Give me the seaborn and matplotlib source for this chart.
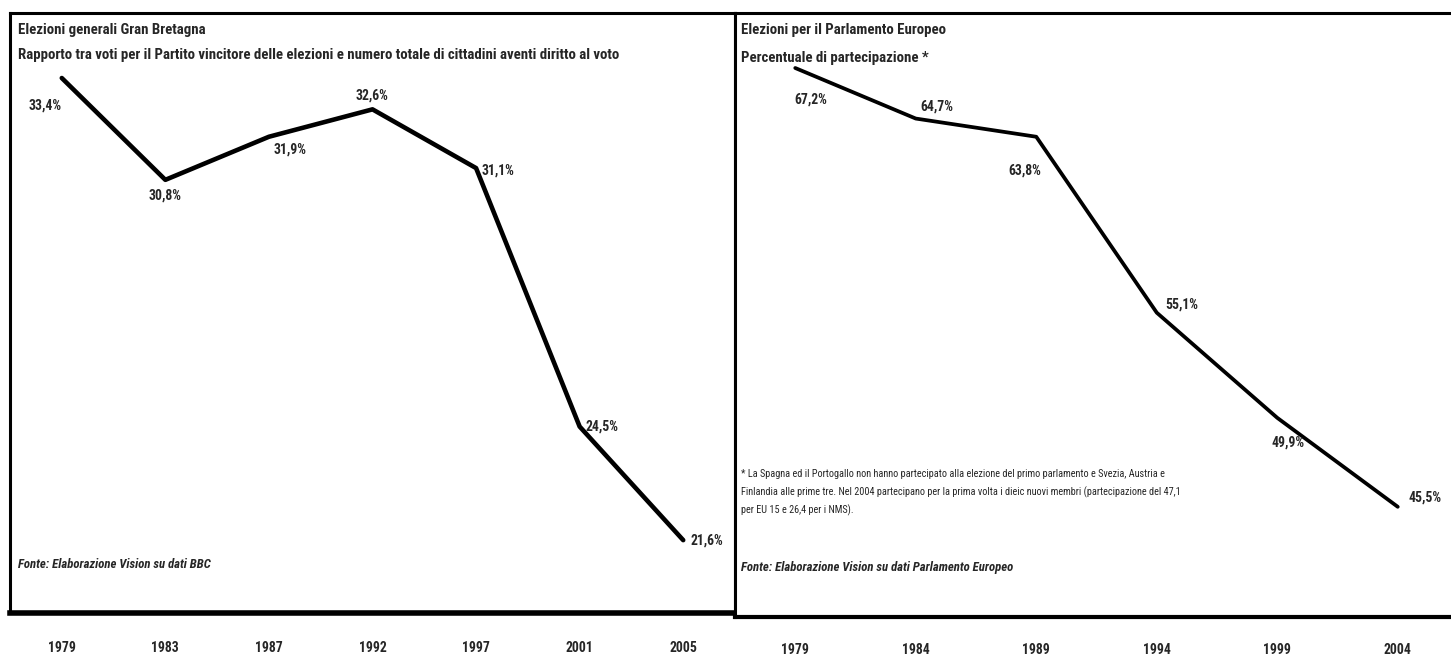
import numpy as np
import pandas as pd
import seaborn as sns
import matplotlib.pyplot as plt

# data
uk_years = ['1979', '1983', '1987', '1992', '1997', '2001', '2005']
uk_share = [33.4, 30.8, 31.9, 32.6, 31.1, 24.5, 21.6]

eu_years = ['1979', '1984', '1989', '1994', '1999', '2004']
eu_turnout = [67.2, 64.7, 63.8, 55.1, 49.9, 45.5]

# label offsets in points (dx, dy), like the excel data labels
uk_offsets = [(-12, -20), (0, -11), (15, -9), (0, 10), (16, -2), (16, 0), (17, 0)]
eu_offsets = [(11, -23), (15, 9), (-8, -24), (18, 6), (8, -18), (20, 7)]

sns.set_style('white')
plt.rcParams['font.family'] = ['Roboto Condensed', 'Liberation Sans', 'DejaVu Sans']

W, H = 1451, 656
fig = plt.figure(figsize=(W / 100, H / 100), dpi=100)


def fmt(v):
    return ('%.1f' % v).replace('.', ',') + '%'


def draw_panel(ax, years, values, offsets, ylim, line_w, tick_w, bottom_w, pad):
    df = pd.DataFrame({'anno': years, 'valore': values})
    sns.lineplot(data=df, x='anno', y='valore', sort=False, color='black', linewidth=line_w, ax=ax)
    n = len(years)
    ax.set_xlim(-0.5, n - 0.5)
    ax.set_ylim(*ylim)
    ax.set_xticks(range(n))
    ax.set_xticklabels(years, fontsize=9.9, fontweight='bold')
    ax.set_xticks(np.arange(-0.5, n, 1.0), minor=True)
    ax.tick_params(axis='x', which='major', length=0, pad=pad)
    ax.tick_params(axis='x', which='minor', length=8, width=tick_w, direction='out', color='black')
    ax.set_yticks([])
    ax.set_xlabel('')
    ax.set_ylabel('')
    for s in ax.spines.values():
        s.set_color('black')
        s.set_linewidth(2.2)
    ax.spines['bottom'].set_linewidth(bottom_w)
    for i, v in enumerate(values):
        ax.annotate(fmt(v), (i, v), xytext=offsets[i], textcoords='offset points',
                    ha='center', va='center', fontsize=9.9, fontweight='bold')


ax1 = fig.add_axes([10 / W, (H - 613) / H, 725 / W, 600 / H])
draw_panel(ax1, uk_years, uk_share, uk_offsets, (19.74, 35.06), 3.3, 2, 4, 20)
ax1.text(8 / 725, 1 - 17 / 600, 'Elezioni generali Gran Bretagna', transform=ax1.transAxes,
         fontsize=10.7, fontweight='bold', va='center')
ax1.text(8 / 725, 1 - 42 / 600,
         'Rapporto tra voti per il Partito vincitore delle elezioni e numero totale di cittadini aventi diritto al voto',
         transform=ax1.transAxes, fontsize=10.7, fontweight='bold', va='center')
ax1.text(8 / 725, 1 - 551 / 600, 'Fonte: Elaborazione Vision su dati BBC', transform=ax1.transAxes,
         fontsize=9.2, fontweight='bold', style='italic', va='center')

ax2 = fig.add_axes([735 / W, (H - 617) / H, 723 / W, 604 / H])
draw_panel(ax2, eu_years, eu_turnout, eu_offsets, (40.05, 69.92), 2.7, 1, 3, 19)
ax2.spines['right'].set_visible(False)
ax2.text(6 / 723, 1 - 17 / 604, 'Elezioni per il Parlamento Europeo', transform=ax2.transAxes,
         fontsize=10.7, fontweight='bold', va='center')
ax2.text(6 / 723, 1 - 45 / 604, 'Percentuale di partecipazione *', transform=ax2.transAxes,
         fontsize=10.7, fontweight='bold', va='center')
note = ['* La Spagna ed il Portogallo non hanno partecipato alla elezione del primo parlamento e Svezia, Austria e',
        'Finlandia alle prime tre. Nel 2004 partecipano per la prima volta i dieic nuovi membri (partecipazione del 47,1',
        'per EU 15 e 26,4 per i NMS).']
for k, line in enumerate(note):
    ax2.text(6 / 723, 1 - (461 + 18 * k) / 604, line, transform=ax2.transAxes,
             fontsize=7.4, va='center')
ax2.text(6 / 723, 1 - 555 / 604, 'Fonte: Elaborazione Vision su dati Parlamento Europeo', transform=ax2.transAxes,
         fontsize=9.2, fontweight='bold', style='italic', va='center')

fig.savefig('out.png', dpi=100)
